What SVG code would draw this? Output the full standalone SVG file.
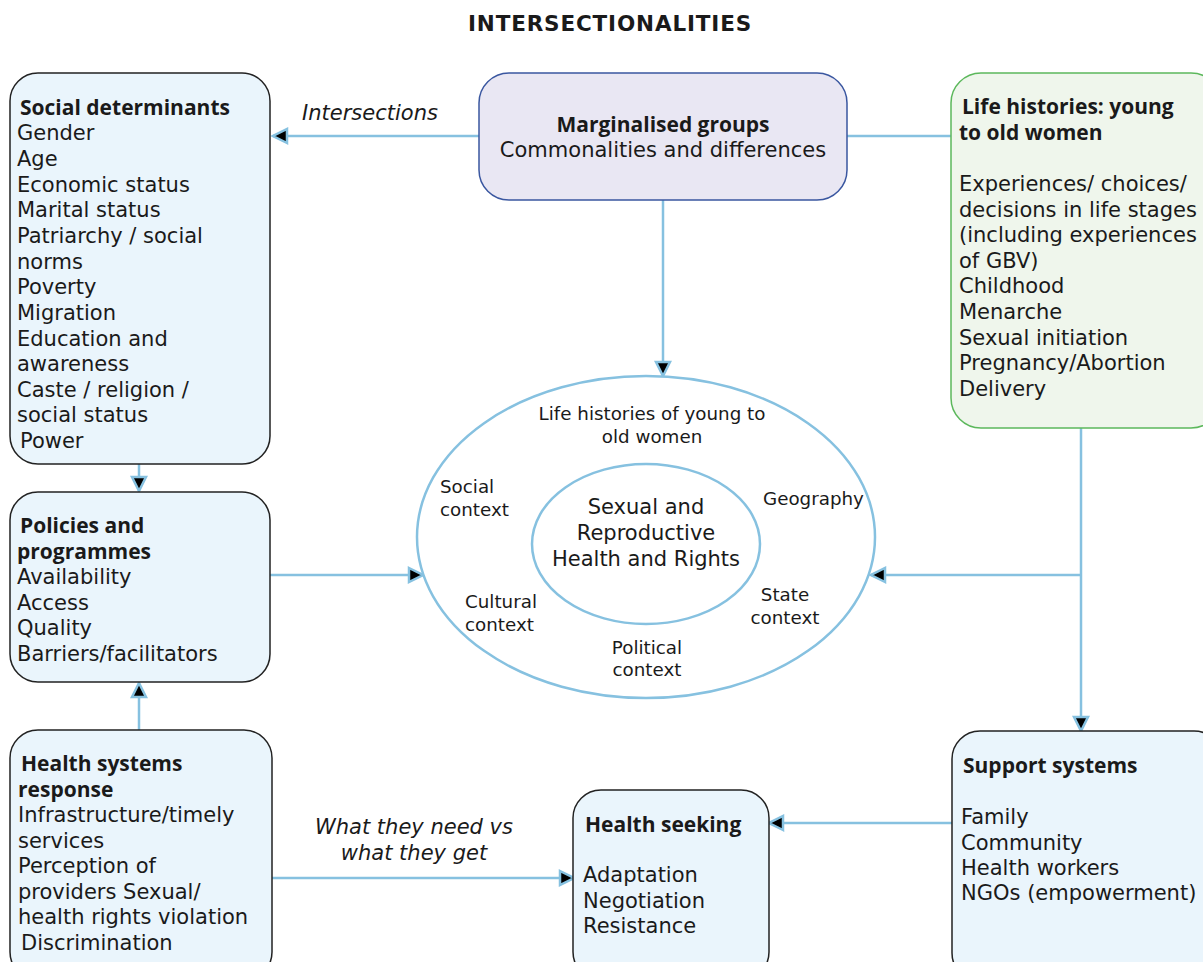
<svg xmlns="http://www.w3.org/2000/svg" width="1203" height="962" viewBox="0 0 1203 962">
<defs>
<style>
text{font-family:"DejaVu Sans","Liberation Sans",sans-serif;fill:#1a1a1a;font-size:21px}
.b{font-family:"Open Sans","DejaVu Sans",sans-serif;font-weight:bold;font-size:21px}
.t{font-weight:bold;font-size:21.5px;letter-spacing:0.85px}
.i{font-style:italic}
.s{font-size:18.3px}
.m{text-anchor:middle}
.box{fill:#eaf5fc;stroke:#222;stroke-width:1.5}
.ln{stroke:#86c1e0;stroke-width:2.5;fill:none}
.el{stroke:#86c1e0;stroke-width:2.5;fill:#fff}
</style>
<marker id="ah" markerUnits="userSpaceOnUse" markerWidth="18" markerHeight="18" viewBox="0 0 18 18" refX="16" refY="9" orient="auto">
<path d="M2,2 L16,9 L2,16 Z" fill="#000" stroke="#86c1e0" stroke-width="2.5" stroke-linejoin="miter"/>
</marker>
</defs>
<rect width="1203" height="962" fill="#fff"/>
<text x="610" y="31" class="t m">INTERSECTIONALITIES</text>

<g id="connectors">
<line class="ln" x1="479" y1="136" x2="273" y2="136" marker-end="url(#ah)"/>
<line class="ln" x1="951" y1="136" x2="847" y2="136"/>
<line class="ln" x1="663" y1="200" x2="663" y2="376" marker-end="url(#ah)"/>
<line class="ln" x1="139" y1="464" x2="139" y2="491" marker-end="url(#ah)"/>
<line class="ln" x1="270" y1="575" x2="423" y2="575" marker-end="url(#ah)"/>
<line class="ln" x1="1081" y1="428" x2="1081" y2="731" marker-end="url(#ah)"/>
<line class="ln" x1="1081" y1="575" x2="871" y2="575" marker-end="url(#ah)"/>
<line class="ln" x1="139" y1="730" x2="139" y2="683" marker-end="url(#ah)"/>
<line class="ln" x1="272" y1="878" x2="574" y2="878" marker-end="url(#ah)"/>
<line class="ln" x1="952" y1="823" x2="769" y2="823" marker-end="url(#ah)"/>
<text x="370" y="120" class="i m">Intersections</text>
<text x="414" y="834" class="i m">What they need vs</text>
<text x="414" y="860" class="i m">what they get</text>
</g>

<g id="social-determinants">
<rect class="box" x="10" y="73" width="260" height="391" rx="28"/>
<text x="20" y="115" class="b">Social determinants</text>
<text x="17" y="140">Gender</text>
<text x="17" y="166">Age</text>
<text x="17" y="192">Economic status</text>
<text x="17" y="217">Marital status</text>
<text x="17" y="243">Patriarchy / social</text>
<text x="17" y="269">norms</text>
<text x="17" y="294">Poverty</text>
<text x="17" y="320">Migration</text>
<text x="17" y="346">Education and</text>
<text x="17" y="371">awareness</text>
<text x="17" y="397">Caste / religion /</text>
<text x="17" y="422">social status</text>
<text x="20" y="448">Power</text>
</g>

<g id="marginalised-groups">
<rect x="479" y="73" width="368" height="127" rx="30" fill="#e9e7f3" stroke="#3a57a0" stroke-width="1.5"/>
<text x="663" y="132" class="b m">Marginalised groups</text>
<text x="663" y="157" class="m">Commonalities and differences</text>
</g>

<g id="life-histories">
<rect x="951" y="73" width="270" height="355" rx="30" fill="#eff6ec" stroke="#5cb85c" stroke-width="1.5"/>
<text x="962" y="114" class="b">Life histories: young</text>
<text x="959" y="140" class="b">to old women</text>
<text x="959" y="191">Experiences/ choices/</text>
<text x="959" y="217">decisions in life stages</text>
<text x="959" y="242">(including experiences</text>
<text x="959" y="268">of GBV)</text>
<text x="959" y="293">Childhood</text>
<text x="959" y="319">Menarche</text>
<text x="959" y="345">Sexual initiation</text>
<text x="959" y="370">Pregnancy/Abortion</text>
<text x="959" y="396">Delivery</text>
</g>

<g id="policies">
<rect class="box" x="10" y="492" width="260" height="190" rx="28"/>
<text x="20" y="533" class="b">Policies and</text>
<text x="17" y="559" class="b">programmes</text>
<text x="17" y="584">Availability</text>
<text x="17" y="610">Access</text>
<text x="17" y="635">Quality</text>
<text x="17" y="661">Barriers/facilitators</text>
</g>

<g id="srhr">
<ellipse class="el" cx="646" cy="537" rx="229" ry="161"/>
<ellipse class="el" cx="646" cy="544" rx="114" ry="80"/>
<text x="652" y="420" class="s m">Life histories of young to</text>
<text x="652" y="443" class="s m">old women</text>
<text x="440" y="493" class="s">Social</text>
<text x="440" y="516" class="s">context</text>
<text x="763" y="505" class="s">Geography</text>
<text x="646" y="514" class="m">Sexual and</text>
<text x="646" y="540" class="m">Reproductive</text>
<text x="646" y="566" class="m">Health and Rights</text>
<text x="465" y="608" class="s">Cultural</text>
<text x="465" y="631" class="s">context</text>
<text x="785" y="601" class="s m">State</text>
<text x="785" y="624" class="s m">context</text>
<text x="647" y="654" class="s m">Political</text>
<text x="647" y="676" class="s m">context</text>
</g>

<g id="health-systems">
<rect class="box" x="10" y="730" width="262" height="250" rx="28"/>
<text x="21" y="771" class="b">Health systems</text>
<text x="18" y="797" class="b">response</text>
<text x="18" y="822">Infrastructure/timely</text>
<text x="18" y="848">services</text>
<text x="18" y="873">Perception of</text>
<text x="18" y="899">providers Sexual/</text>
<text x="18" y="924">health rights violation</text>
<text x="21" y="950">Discrimination</text>
</g>

<g id="health-seeking">
<rect class="box" x="573" y="790" width="196" height="190" rx="28"/>
<text x="585" y="832" class="b">Health seeking</text>
<text x="583" y="882">Adaptation</text>
<text x="583" y="908">Negotiation</text>
<text x="583" y="933">Resistance</text>
</g>

<g id="support-systems">
<rect class="box" x="952" y="731" width="270" height="250" rx="28"/>
<text x="963" y="773" class="b">Support systems</text>
<text x="961" y="824">Family</text>
<text x="961" y="850">Community</text>
<text x="961" y="875">Health workers</text>
<text x="961" y="900">NGOs (empowerment)</text>
</g>
</svg>
